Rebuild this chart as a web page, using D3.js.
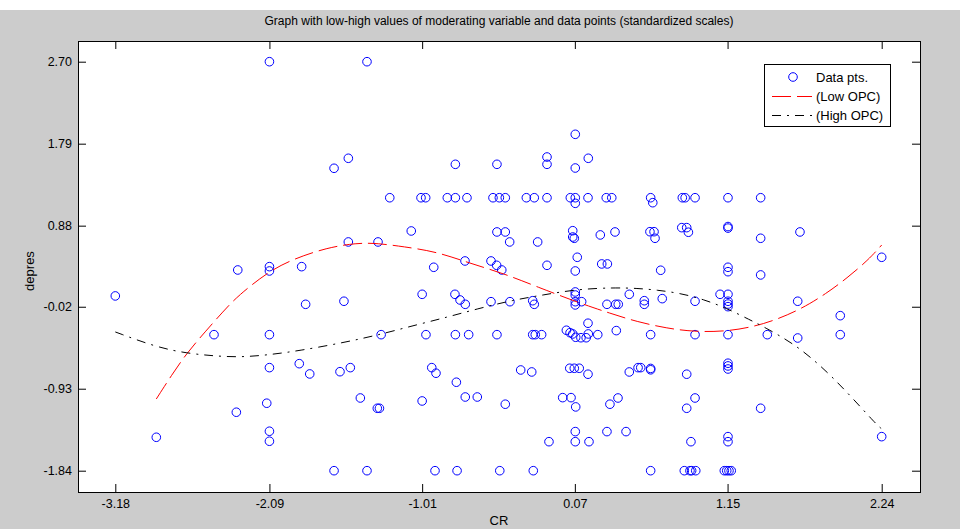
<!DOCTYPE html>
<html>
<head>
<meta charset="utf-8">
<script src="https://cdn.jsdelivr.net/npm/d3@7"></script>
<style>
  body { margin: 0; background: #cccccc; }
  svg { display: block; font-family: "Liberation Sans", Arial, sans-serif; }
</style>
</head>
<body>
<svg id="chart" width="960" height="529"></svg>
<script>
// tick labels as printed on the chart
const xTicks = [-3.18, -2.09, -1.01, 0.07, 1.15, 2.24];
const yTicks = [2.70, 1.79, 0.88, -0.02, -0.93, -1.84];

// data points [CR, depres]
const dataPts = [
  [-2.09, 2.70], [-1.40, 2.70], [-1.633, 1.517], [-1.532, 1.628], [-1.532, 0.699], [-1.322, 0.699],
  [-2.314, 0.388], [-2.09, 0.425], [-2.09, 0.377], [-1.862, 0.425], [-3.18, 0.100], [-1.834, 0.007],
  [-1.563, 0.041], [-2.482, -0.330], [-2.09, -0.330], [-1.30, -0.330], [-2.09, -0.696], [-1.879, -0.652],
  [-1.805, -0.766], [-1.591, -0.741], [-1.518, -0.696], [-1.447, -1.033], [-1.327, -1.147], [-1.312, -1.147],
  [-2.109, -1.091], [-2.324, -1.191], [-2.09, -1.402], [-2.09, -1.513], [-2.89, -1.469], [-1.633, -1.84],
  [-1.40, -1.84],
  [-0.928, 0.418], [-0.707, 0.488], [-0.523, 0.488], [-0.483, 0.440], [-0.447, 0.388], [-0.127, 0.440],
  [0.073, 0.377], [0.26, 0.455], [0.30, 0.455], [0.677, 0.385], [-1.01, 0.118], [-0.778, 0.118],
  [-0.742, 0.055], [-0.705, 0.007], [-0.523, 0.036], [-0.389, 0.036], [-0.228, 0.047], [-0.217, 0.007],
  [0.073, 0.144], [0.073, 0.110], [0.073, 0.036], [0.073, 0.000], [0.118, 0.036], [0.297, 0.007],
  [0.359, 0.007], [0.377, 0.007], [0.455, 0.118], [0.561, 0.047], [0.561, 0.007], [0.688, 0.070],
  [0.163, -0.203], [-0.983, -0.33], [-0.775, -0.33], [-0.681, -0.33], [-0.481, -0.33], [-0.228, -0.33],
  [-0.210, -0.33], [-0.165, -0.33], [0.010, -0.281], [0.036, -0.308], [0.055, -0.322], [0.076, -0.359],
  [0.113, -0.364], [0.150, -0.364], [0.165, -0.322], [0.232, -0.33], [0.363, -0.285], [0.606, -0.33],
  [-0.942, -0.696], [-0.912, -0.758], [-0.768, -0.858], [-0.313, -0.722], [-0.235, -0.744], [0.034, -0.703],
  [0.066, -0.703], [0.101, -0.703], [0.163, -0.769], [0.455, -0.744], [0.517, -0.696], [0.536, -0.696],
  [0.606, -0.705], [0.606, -0.720], [-1.01, -1.066], [-0.705, -1.022], [-0.620, -1.022], [-0.422, -1.102],
  [-0.016, -1.029], [0.043, -1.029], [0.076, -1.132], [0.318, -1.102], [0.375, -1.033], [0.073, -1.406],
  [0.297, -1.406], [0.432, -1.406], [-0.113, -1.518], [0.073, -1.518], [0.170, -1.518],
  [-0.919, -1.84], [-0.763, -1.84], [-0.461, -1.84], [-0.224, -1.84], [0.606, -1.84],
  [0.073, 1.894], [-0.127, 1.642], [-0.127, 1.561], [0.165, 1.628], [-0.775, 1.561], [-0.481, 1.561],
  [0.073, 1.520],
  [-1.239, 1.19], [-1.018, 1.19], [-0.985, 1.19], [-0.832, 1.19], [-0.775, 1.19], [-0.693, 1.19],
  [-0.509, 1.19], [-0.464, 1.19], [-0.422, 1.19], [-0.273, 1.19], [-0.217, 1.19], [-0.127, 1.19],
  [0.038, 1.19], [0.073, 1.19], [0.163, 1.19], [0.292, 1.19], [0.331, 1.19], [0.606, 1.19],
  [0.83, 1.19], [0.85, 1.19], [0.92, 1.19], [1.153, 1.19], [1.384, 1.19], [0.073, 1.128], [0.621, 1.135],
  [-1.087, 0.821], [-0.481, 0.81], [-0.422, 0.81], [-0.391, 0.699], [-0.193, 0.699], [0.055, 0.824],
  [0.055, 0.754], [0.066, 0.740], [0.25, 0.777], [0.354, 0.81], [0.601, 0.813], [0.63, 0.813],
  [0.637, 0.74], [0.826, 0.858], [0.861, 0.858], [0.873, 0.807], [1.153, 0.870], [1.153, 0.853],
  [1.384, 0.740], [1.662, 0.81], [2.24, 0.529], [0.087, 0.529],
  [1.153, 0.418], [1.153, 0.369], [1.384, 0.333], [0.92, 0.041], [1.097, 0.118], [1.153, 0.118],
  [1.153, 0.041], [1.153, 0.010], [1.153, -0.019], [1.646, 0.041], [1.947, -0.119], [0.92, -0.33],
  [1.153, -0.33], [1.431, -0.33], [1.646, -0.367], [1.947, -0.33], [0.861, -0.769], [1.153, -0.647],
  [1.153, -0.677], [1.153, -0.711], [0.92, -1.033], [0.861, -1.147], [1.384, -1.147], [0.891, -1.518],
  [1.153, -1.462], [1.153, -1.518], [2.24, -1.462],
  [0.844, -1.84], [0.884, -1.84], [0.896, -1.84], [0.925, -1.84], [1.127, -1.84], [1.144, -1.84],
  [1.16, -1.84], [1.176, -1.84]
];

// (Low OPC) curve
const lowX = [-2.89, -2.781, -2.675, -2.544, -2.416, -2.314, -2.098, -1.921, -1.685, -1.473, -1.327,
  -1.143, -0.907, -0.672, -0.436, -0.200, 0.106, 0.318, 0.507, 0.720, 0.908, 1.144, 1.403, 1.662,
  1.851, 1.993, 2.145, 2.24];
const lowY = [-1.044, -0.777, -0.536, -0.297, -0.070, 0.100, 0.370, 0.510, 0.635, 0.688, 0.685,
  0.647, 0.591, 0.462, 0.351, 0.203, 0.019, -0.092, -0.186, -0.259, -0.297, -0.297, -0.222, -0.056,
  0.130, 0.296, 0.499, 0.665];

// (High OPC) curve
const highX = [-3.18, -2.887, -2.675, -2.487, -2.298, -2.098, -1.874, -1.568, -1.320, -1.073, -0.836,
  -0.624, -0.365, -0.153, 0.083, 0.342, 0.507, 0.649, 0.814, 0.978, 1.144, 1.309, 1.403, 1.615, 1.804,
  1.993, 2.205, 2.24];
const highY = [-0.300, -0.470, -0.536, -0.566, -0.581, -0.555, -0.507, -0.419, -0.333, -0.230, -0.137,
  -0.045, 0.055, 0.111, 0.174, 0.192, 0.185, 0.166, 0.130, 0.063, -0.037, -0.167, -0.240, -0.426, -0.666,
  -0.963, -1.332, -1.375];

const margin = {top: 41, left: 78, right: 40, bottom: 37};
const width = 960 - margin.left - margin.right;   // 842
const height = 529 - margin.top - margin.bottom;  // 451

const svg = d3.select('#chart');

// thin white strip at the top of the figure
svg.append('rect').attr('x', 0).attr('y', 0).attr('width', 960).attr('height', 10).attr('fill', '#fff');

const chart = svg.append('g').attr('transform', `translate(${margin.left},${margin.top})`);

const xScale = d3.scaleLinear().domain([-3.4438, 2.5109]).range([0, width]);
const yScale = d3.scaleLinear().domain([-2.0765, 2.9298]).range([height, 0]);

chart.append('rect')
  .attr('x', 0).attr('y', 0)
  .attr('width', width).attr('height', height)
  .attr('fill', '#fff');

// plain hyphen for negatives, like the original
const fmt = d => d.toFixed(2);

const xAxis = d3.axisBottom(xScale).tickValues(xTicks).tickFormat(fmt).tickSizeInner(-8).tickSizeOuter(0).tickPadding(7);
const xAxisTop = d3.axisTop(xScale).tickValues(xTicks).tickFormat('').tickSizeInner(-8).tickSizeOuter(0);
const yAxis = d3.axisLeft(yScale).tickValues(yTicks).tickFormat(fmt).tickSizeInner(-8).tickSizeOuter(0).tickPadding(6);
const yAxisRight = d3.axisRight(yScale).tickValues(yTicks).tickFormat('').tickSizeInner(-8).tickSizeOuter(0);

[
  chart.append('g').attr('transform', `translate(0,${height})`).call(xAxis),
  chart.append('g').call(xAxisTop),
  chart.append('g').call(yAxis),
  chart.append('g').attr('transform', `translate(${width},0)`).call(yAxisRight)
].forEach(g => {
  g.select('.domain').remove();
  g.selectAll('line').attr('stroke', '#000');
  g.selectAll('text').attr('fill', '#000').style('font-size', '12.5px')
    .style('font-family', '"Liberation Sans", Arial, sans-serif');
});

// frame
chart.append('rect')
  .attr('x', 0.5).attr('y', 0.5)
  .attr('width', width).attr('height', height)
  .attr('fill', 'none').attr('stroke', '#000');

const plot = chart.append('g');

plot.selectAll('.pt')
  .data(dataPts)
  .enter()
  .append('circle')
    .attr('class', 'pt')
    .attr('cx', d => xScale(d[0]))
    .attr('cy', d => yScale(d[1]))
    .attr('r', 4.3)
    .attr('fill', 'none')
    .attr('stroke', '#0000ff')
    .attr('stroke-width', 1);

const line = d3.line()
  .x(d => xScale(d[0]))
  .y(d => yScale(d[1]))
  .curve(d3.curveBasis);

plot.append('path')
  .datum(lowX.map((x, i) => [x, lowY[i]]))
  .attr('d', line)
  .attr('fill', 'none')
  .attr('stroke', '#ff0000')
  .attr('stroke-width', 1)
  .attr('stroke-dasharray', '19,6');

plot.append('path')
  .datum(highX.map((x, i) => [x, highY[i]]))
  .attr('d', line)
  .attr('fill', 'none')
  .attr('stroke', '#000')
  .attr('stroke-width', 1)
  .attr('stroke-dasharray', '9,6,2,6');

// legend
const legend = svg.append('g').attr('transform', 'translate(764,64)');
legend.append('rect')
  .attr('x', 0.5).attr('y', 0.5)
  .attr('width', 126).attr('height', 62)
  .attr('fill', '#fff').attr('stroke', '#000');

const legendItems = ['Data pts.', '(Low OPC)', '(High OPC)'];
legend.selectAll('.lbl')
  .data(legendItems)
  .enter()
  .append('text')
    .attr('class', 'lbl')
    .attr('x', 52)
    .attr('y', (d, i) => 13 + i * 19)
    .attr('dy', '0.35em')
    .style('font-size', '13px')
    .text(d => d);

legend.append('circle')
  .attr('cx', 29).attr('cy', 13).attr('r', 4.3)
  .attr('fill', 'none').attr('stroke', '#0000ff');
legend.append('line')
  .attr('x1', 8).attr('x2', 48).attr('y1', 32.5).attr('y2', 32.5)
  .attr('stroke', '#ff0000').attr('stroke-dasharray', '19,6');
legend.append('line')
  .attr('x1', 8).attr('x2', 50).attr('y1', 51.5).attr('y2', 51.5)
  .attr('stroke', '#000').attr('stroke-dasharray', '9,6,2,6');

// title and axis labels
svg.append('text')
  .attr('x', margin.left + width / 2)
  .attr('y', 25)
  .attr('text-anchor', 'middle')
  .style('font-size', '12px')
  .text('Graph with low-high values of moderating variable and data points (standardized scales)');

svg.append('text')
  .attr('x', margin.left + width / 2)
  .attr('y', 525)
  .attr('text-anchor', 'middle')
  .style('font-size', '13px')
  .text('CR');

svg.append('text')
  .attr('transform', 'translate(34,271) rotate(-90)')
  .attr('text-anchor', 'middle')
  .style('font-size', '13px')
  .text('depres');
</script>
</body>
</html>
